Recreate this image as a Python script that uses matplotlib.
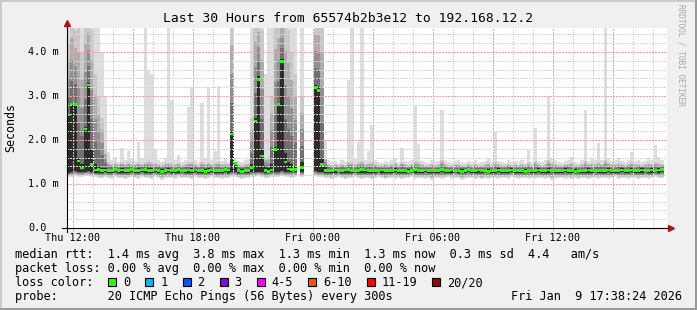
import numpy as np
import matplotlib
matplotlib.use('Agg')
import matplotlib.pyplot as plt
from matplotlib.patches import Rectangle
from matplotlib.transforms import blended_transform_factory

plt.rcParams['font.family'] = ['DejaVu Sans Mono', 'DejaVu Sans']

nan = np.nan

# time in hours since Thu 00:00, one column per 10 minutes
t_start = 11.7
step = 1.0 / 6

# median rtt per column (ms)
median = [
    2.57, 2.82, 2.80, 1.52, 1.36, 2.25, 3.25, 1.45, 1.32, 1.33,
    1.30, 1.32, 1.30, 1.31, 1.33, 1.30, 1.32, 1.31, 1.30, 1.33,
    1.31, 1.30, 1.32, 1.33, 1.31, 1.30, 1.32, 1.31, 1.29, 1.31,
    1.32, 1.30, 1.31, 1.33, 1.31, 1.30, 1.32, 1.31, 1.32, 1.30,
    1.31, 1.29, 1.31, 1.32, 1.31, 1.30, 1.31, 1.33, 1.32, 2.14,
    1.46, 1.30, 1.29, 1.30, 1.31, 1.37, 2.43, 3.38, 1.64, 1.30,
    1.29, 1.32, 1.78, 2.80, 3.78, 1.50, 1.34, 1.33, 1.33, nan,
    1.37, nan, nan, nan, 3.19, 3.13, 1.45, 1.31, 1.30, 1.31,
    1.32, 1.30, 1.31, 1.32, 1.33, 1.31, 1.30, 1.31, 1.33, 1.32,
    1.31, 1.30, 1.31, 1.30, 1.32, 1.31, 1.30, 1.31, 1.32, 1.30,
    1.31, 1.30, 1.29, 1.31, 1.33, 1.31, 1.30, 1.32, 1.31, 1.30,
    1.30, 1.31, 1.33, 1.31, 1.30, 1.32, 1.31, 1.30, 1.29, 1.31,
    1.33, 1.31, 1.30, 1.32, 1.30, 1.31, 1.29, 1.31, 1.30, 1.32,
    1.31, 1.30, 1.31, 1.32, 1.30, 1.31, 1.30, 1.29, 1.30, 1.31,
    1.30, 1.32, 1.31, 1.30, 1.32, 1.31, 1.30, 1.31, 1.30, 1.32,
    1.31, 1.30, 1.29, 1.31, 1.30, 1.31, 1.32, 1.30, 1.31, 1.30,
    1.31, 1.30, 1.32, 1.31, 1.30, 1.31, 1.32, 1.30, 1.31, 1.32,
    1.30, 1.31, 1.32, 1.31, 1.30, 1.32, 1.31, 1.32, 1.33,
]

# fastest ping
ping_min = [
    1.15, 1.17, 1.18, 1.16, 1.17, 1.18, 1.19, 1.16, 1.15, 1.14,
    1.14, 1.15, 1.13, 1.12, 1.15, 1.14, 1.13, 1.12, 1.14, 1.15,
    1.13, 1.12, 1.15, 1.14, 1.13, 1.12, 1.15, 1.14, 1.10, 1.13,
    1.14, 1.13, 1.12, 1.15, 1.14, 1.13, 1.14, 1.12, 1.15, 1.13,
    1.14, 1.12, 1.13, 1.15, 1.14, 1.13, 1.12, 1.14, 1.13, 1.16,
    1.15, 1.13, 1.12, 1.14, 1.13, 1.16, 1.17, 1.18, 1.16, 1.14,
    1.13, 1.15, 1.16, 1.17, 1.18, 1.16, 1.15, 1.14, 1.15, nan,
    1.17, nan, nan, nan, 1.18, 1.17, 1.16, 1.14, 1.13, 1.12,
    1.14, 1.15, 1.13, 1.12, 1.14, 1.13, 1.15, 1.14, 1.12, 1.13,
    1.14, 1.12, 1.13, 1.15, 1.14, 1.11, 1.13, 1.14, 1.12, 1.13,
    1.12, 1.14, 1.13, 1.15, 1.12, 1.13, 1.14, 1.12, 1.13, 1.10,
    1.13, 1.14, 1.12, 1.13, 1.15, 1.12, 1.14, 1.13, 1.10, 1.12,
    1.14, 1.13, 1.12, 1.14, 1.11, 1.13, 1.12, 1.14, 1.13, 1.12,
    1.13, 1.14, 1.12, 1.15, 1.13, 1.12, 1.14, 1.13, 1.12, 1.14,
    1.12, 1.13, 1.14, 1.12, 1.13, 1.10, 1.12, 1.14, 1.13, 1.12,
    1.14, 1.12, 1.13, 1.11, 1.14, 1.13, 1.12, 1.14, 1.13, 1.12,
    1.13, 1.14, 1.12, 1.13, 1.15, 1.12, 1.13, 1.14, 1.12, 1.13,
    1.14, 1.12, 1.13, 1.14, 1.12, 1.13, 1.15, 1.13, 1.14,
]

# lower edge of the dense core
core_lo = [
    1.26, 1.28, 1.30, 1.27, 1.27, 1.28, 1.30, 1.27, 1.26, 1.26,
    1.26, 1.27, 1.26, 1.26, 1.27, 1.26, 1.26, 1.25, 1.26, 1.27,
    1.26, 1.25, 1.27, 1.26, 1.26, 1.25, 1.27, 1.26, 1.25, 1.26,
    1.27, 1.26, 1.25, 1.26, 1.27, 1.26, 1.26, 1.25, 1.27, 1.26,
    1.26, 1.25, 1.26, 1.27, 1.26, 1.25, 1.26, 1.27, 1.26, 1.27,
    1.27, 1.26, 1.25, 1.26, 1.26, 1.27, 1.28, 1.28, 1.27, 1.26,
    1.25, 1.27, 1.27, 1.28, 1.29, 1.27, 1.27, 1.27, 1.27, nan,
    1.28, nan, nan, nan, 1.29, 1.28, 1.27, 1.26, 1.26, 1.25,
    1.26, 1.27, 1.26, 1.25, 1.26, 1.26, 1.27, 1.26, 1.25, 1.26,
    1.26, 1.25, 1.26, 1.27, 1.26, 1.25, 1.26, 1.26, 1.27, 1.26,
    1.25, 1.26, 1.26, 1.27, 1.26, 1.25, 1.26, 1.27, 1.26, 1.25,
    1.26, 1.26, 1.27, 1.25, 1.26, 1.26, 1.27, 1.26, 1.25, 1.26,
    1.27, 1.26, 1.25, 1.26, 1.26, 1.27, 1.25, 1.26, 1.26, 1.27,
    1.26, 1.25, 1.26, 1.27, 1.26, 1.26, 1.25, 1.26, 1.27, 1.26,
    1.26, 1.27, 1.25, 1.26, 1.26, 1.27, 1.26, 1.25, 1.26, 1.27,
    1.26, 1.25, 1.26, 1.27, 1.26, 1.26, 1.25, 1.26, 1.27, 1.26,
    1.25, 1.26, 1.27, 1.26, 1.26, 1.25, 1.27, 1.26, 1.26, 1.27,
    1.26, 1.25, 1.26, 1.27, 1.26, 1.26, 1.27, 1.26, 1.27,
]

# upper edge of the dense core
core_hi = [
    2.60, 2.85, 2.85, 1.60, 1.45, 2.30, 3.30, 1.80, 1.45, 1.40,
    1.37, 1.37, 1.35, 1.35, 1.36, 1.34, 1.36, 1.35, 1.35, 1.36,
    1.35, 1.36, 1.35, 1.36, 1.36, 1.36, 1.35, 1.35, 1.34, 1.35,
    1.36, 1.35, 1.35, 1.36, 1.34, 1.35, 1.35, 1.36, 1.35, 1.34,
    1.35, 1.34, 1.36, 1.35, 1.35, 1.35, 1.34, 1.36, 1.35, 2.20,
    1.50, 1.35, 1.34, 1.35, 1.35, 1.45, 2.50, 3.45, 1.80, 1.38,
    1.36, 1.45, 1.85, 2.85, 3.85, 1.70, 1.50, 1.45, 1.42, nan,
    1.50, nan, nan, nan, 3.25, 3.20, 1.60, 1.38, 1.35, 1.35,
    1.35, 1.34, 1.35, 1.35, 1.36, 1.35, 1.34, 1.35, 1.36, 1.35,
    1.35, 1.34, 1.35, 1.34, 1.35, 1.35, 1.34, 1.35, 1.36, 1.34,
    1.35, 1.34, 1.34, 1.35, 1.36, 1.35, 1.34, 1.35, 1.35, 1.34,
    1.34, 1.35, 1.36, 1.35, 1.34, 1.35, 1.35, 1.34, 1.34, 1.35,
    1.36, 1.35, 1.34, 1.35, 1.34, 1.35, 1.34, 1.35, 1.34, 1.36,
    1.35, 1.34, 1.35, 1.36, 1.34, 1.35, 1.34, 1.34, 1.34, 1.35,
    1.34, 1.36, 1.35, 1.34, 1.36, 1.35, 1.34, 1.35, 1.34, 1.36,
    1.35, 1.34, 1.34, 1.35, 1.34, 1.35, 1.36, 1.34, 1.35, 1.34,
    1.35, 1.34, 1.36, 1.35, 1.34, 1.35, 1.36, 1.34, 1.35, 1.36,
    1.34, 1.35, 1.36, 1.35, 1.34, 1.36, 1.35, 1.36, 1.37,
]

# second slowest ping
upper = [
    4.20, 4.80, 4.50, 4.80, 4.00, 4.80, 4.80, 4.50, 3.50, 3.00,
    2.50, 1.80, 1.50, 1.46, 1.48, 1.45, 1.50, 1.46, 1.50, 1.47,
    1.45, 1.50, 1.46, 1.50, 1.52, 1.50, 1.48, 1.46, 1.44, 1.47,
    1.48, 1.47, 1.45, 1.48, 1.44, 1.46, 1.50, 1.50, 1.46, 1.44,
    1.50, 1.46, 1.50, 1.46, 1.48, 1.50, 1.45, 1.47, 1.45, 4.80,
    1.50, 1.46, 1.44, 1.46, 1.47, 2.50, 4.80, 4.80, 4.50, 1.60,
    1.60, 3.00, 4.80, 4.80, 4.80, 4.80, 4.50, 4.00, 3.50, nan,
    3.00, nan, nan, nan, 4.80, 4.80, 4.80, 1.60, 1.46, 1.44,
    1.45, 1.43, 1.46, 1.44, 1.50, 1.50, 1.46, 1.50, 1.52, 1.45,
    1.48, 1.50, 1.46, 1.44, 1.43, 1.45, 1.44, 1.46, 1.48, 1.44,
    1.50, 1.45, 1.44, 1.46, 1.52, 1.50, 1.45, 1.44, 1.43, 1.46,
    1.44, 1.45, 1.55, 1.46, 1.44, 1.43, 1.45, 1.46, 1.44, 1.43,
    1.45, 1.44, 1.46, 1.43, 1.44, 1.45, 1.48, 1.44, 1.50, 1.45,
    1.44, 1.43, 1.46, 1.44, 1.45, 1.44, 1.46, 1.43, 1.50, 1.44,
    1.52, 1.45, 1.44, 1.46, 1.55, 1.48, 1.46, 1.44, 1.43, 1.45,
    1.46, 1.48, 1.44, 1.43, 1.46, 1.52, 1.45, 1.48, 1.46, 1.50,
    1.46, 1.55, 1.48, 1.45, 1.46, 1.47, 1.45, 1.44, 1.46, 1.50,
    1.45, 1.46, 1.44, 1.45, 1.48, 1.46, 1.50, 1.48, 1.46,
]

# slowest ping
ping_max = [
    4.80, 4.80, 4.80, 4.80, 4.80, 4.80, 4.80, 4.80, 4.80, 4.80,
    4.00, 3.00, 1.72, 1.55, 1.62, 1.50, 1.81, 1.55, 1.75, 1.60,
    1.52, 1.95, 1.58, 4.80, 3.60, 3.50, 1.80, 1.55, 1.50, 1.60,
    4.80, 2.90, 1.55, 1.66, 1.50, 1.55, 2.76, 3.20, 1.55, 1.50,
    2.84, 1.60, 3.20, 1.55, 1.75, 3.23, 1.52, 1.60, 1.50, 4.80,
    1.60, 1.52, 1.50, 1.55, 1.60, 4.80, 4.80, 4.80, 4.80, 3.50,
    4.80, 4.80, 4.80, 4.80, 4.80, 4.80, 4.80, 4.80, 4.80, nan,
    4.80, nan, nan, nan, 4.80, 4.80, 4.80, 2.00, 1.55, 1.50,
    1.52, 1.48, 1.55, 1.50, 3.36, 4.80, 1.60, 1.96, 4.80, 1.55,
    1.75, 2.34, 1.55, 1.50, 1.48, 1.52, 1.50, 1.55, 1.60, 1.50,
    1.82, 1.52, 1.50, 1.55, 2.77, 1.90, 1.52, 1.50, 1.48, 1.55,
    1.50, 1.52, 2.68, 1.55, 1.50, 1.48, 1.52, 1.55, 1.50, 1.48,
    1.52, 1.50, 1.55, 1.48, 1.50, 1.52, 1.60, 1.50, 2.19, 1.52,
    1.50, 1.48, 1.55, 1.50, 1.52, 1.50, 1.55, 1.48, 1.77, 1.50,
    2.27, 1.52, 1.50, 1.55, 3.00, 1.60, 1.55, 1.50, 1.48, 1.52,
    1.55, 1.62, 1.50, 1.48, 1.55, 2.68, 1.52, 1.60, 1.55, 1.93,
    1.55, 4.80, 1.60, 1.52, 1.55, 1.58, 1.52, 1.50, 1.55, 1.73,
    1.52, 1.55, 1.50, 1.52, 1.60, 1.55, 1.89, 1.62, 1.55,
]

tick_hours = [12, 18, 24, 30, 36]
tick_labels = ['Thu 12:00', 'Thu 18:00', 'Fri 00:00', 'Fri 06:00', 'Fri 12:00']
y_ticks = [0, 1, 2, 3, 4]
y_labels = ['0.0', '1.0 m', '2.0 m', '3.0 m', '4.0 m']

title = 'Last 30 Hours from 65574b2b3e12 to 192.168.12.2'
legend_rtt = 'median rtt:  1.4 ms avg  3.8 ms max  1.3 ms min  1.3 ms now  0.3 ms sd  4.4   am/s'
legend_loss = 'packet loss: 0.00 % avg  0.00 % max  0.00 % min  0.00 % now'
loss_labels = ['0', '1', '2', '3', '4-5', '6-10', '11-19', '20/20']
loss_colors = ['#26ff00', '#00b8ff', '#0059ff', '#7e00ff', '#ff00ee', '#ff5500', '#ff0000', '#a10000']
probe_text = 'probe:       20 ICMP Echo Pings (56 Bytes) every 300s'
stamp = 'Fri Jan  9 17:38:24 2026'

W, H = 697, 310
def fx(x):
    return x / W
def fy(y):
    return 1 - y / H

fig = plt.figure(figsize=(W / 100, H / 100), dpi=100, facecolor='#f0f0f0')
ax = fig.add_axes([fx(67), fy(228), 600 / W, 200 / H])
ax.set_facecolor('white')
ax.set_xlim(t_start, t_start + 30)
ax.set_ylim(0, 200 / 44)
for s in ax.spines.values():
    s.set_visible(False)

n = len(median)
t = t_start + step * np.arange(n)
xs = np.column_stack([t, t + step]).ravel()
def dbl(a):
    return np.repeat(np.asarray(a, float), 2)

lo0, c_lo = np.asarray(ping_min), np.asarray(core_lo)
hi0, up, c_hi = np.asarray(ping_max), np.asarray(upper), np.asarray(core_hi)

# smoke: outer band is the full ping range, inner bands close in on the core
ax.fill_between(xs, dbl(lo0), dbl(hi0), color='#dddddd', lw=0, zorder=1)
shades = ['#c8c8c8', '#adadad', '#909090', '#707070', '#2c2c2c']
for j, c in enumerate(shades, start=1):
    f_top = (j - 1) / 4
    f_bot = j / 5
    top = up + (c_hi - up) * f_top
    bot = lo0 + (c_lo - lo0) * f_bot
    ax.fill_between(xs, dbl(bot), dbl(top), color=c, lw=0, zorder=1 + j * 0.01)

# grid
for h in range(12, 42):
    major = h % 3 == 0
    ax.axvline(h, color='#f0a4a4' if major else '#d6d6d6', lw=0.75,
               ls=(0, (1, 1)), antialiased=False, zorder=2)
for i in range(1, 23):
    v = i * 0.2
    major = i % 5 == 0
    ax.axhline(v, color='#f0a4a4' if major else '#d6d6d6', lw=0.75,
               ls=(0, (1, 1)), antialiased=False, zorder=2)

# median rtt, drawn as short green dashes
med = np.asarray(median, float)
ax.fill_between(xs, dbl(med - 0.03), dbl(med + 0.03), color='#26ff00', lw=0, zorder=3)

# axes with arrows
ax.plot([t_start - 0.25, t_start + 30.05], [0, 0], color='black', lw=0.8,
        clip_on=False, zorder=5)
ax.plot([t_start, t_start], [-0.09, 4.62], color='black', lw=0.8,
        clip_on=False, zorder=5)
ax.plot(t_start + 30.2, 0, marker='>', ms=4.5, color='#a01818', mec='#a01818',
        clip_on=False, zorder=6)
ax.plot(t_start, 4.65, marker='^', ms=4.5, color='#a01818', mec='#a01818',
        clip_on=False, zorder=6)

major_x = list(range(12, 42, 3))
ax.set_xticks(major_x)
ax.set_xticklabels([tick_labels[tick_hours.index(h)] if h in tick_hours else ''
                    for h in major_x])
ax.set_xticks(range(12, 42), minor=True)
ax.tick_params(axis='x', which='major', length=2.5, width=0.75, color='#f0a4a4',
               pad=1.0, labelsize=7.3)
ax.tick_params(axis='x', which='minor', length=1.5, width=0.75, color='#d6d6d6')
ax.set_yticks([])

ytr = blended_transform_factory(fig.transFigure, ax.transData)
for v, lab in zip(y_ticks, y_labels):
    ax.text(fx(28), v, lab, transform=ytr, ha='left', va='center', fontsize=7.3)

# texts
fig.text(0.5, fy(19), title, ha='center', va='center', fontsize=9.36)
fig.text(fx(11), fy(128), 'Seconds', rotation=90, ha='center', va='center', fontsize=8.4)
fig.text(fx(681), fy(4), 'RRDTOOL / TOBI OETIKER', rotation=270, ha='center', va='top',
         fontsize=5.6, color='#a8a8a8')

fs = 8.53
cw = 7.13
fig.text(fx(15), fy(258), legend_rtt, fontsize=fs, va='baseline')
fig.text(fx(15), fy(272.3), legend_loss, fontsize=fs, va='baseline')
fig.text(fx(15), fy(286.3), 'loss color:', fontsize=fs, va='baseline')
fig.text(fx(15), fy(300), probe_text, fontsize=fs, va='baseline')
fig.text(fx(682), fy(300), stamp, fontsize=fs, va='baseline', ha='right')

bx = 108.3
for lab, c in zip(loss_labels, loss_colors):
    fig.add_artist(Rectangle((fx(bx), fy(286)), 8 / W, 8 / H, transform=fig.transFigure,
                             facecolor=c, edgecolor='black', lw=0.8))
    fig.text(fx(bx + 15), fy(286.3), lab, fontsize=fs, va='baseline')
    bx += 15 + len(lab) * cw + 15

# 3d frame
fig.add_artist(Rectangle((0, fy(2)), 1, 2 / H, transform=fig.transFigure,
                         facecolor='#cbcbcb', lw=0))
fig.add_artist(Rectangle((0, 0), 2 / W, 1, transform=fig.transFigure,
                         facecolor='#cbcbcb', lw=0))
fig.add_artist(Rectangle((0, 0), 1, 2 / H, transform=fig.transFigure,
                         facecolor='#999999', lw=0))
fig.add_artist(Rectangle((fx(695), 0), 2 / W, 1, transform=fig.transFigure,
                         facecolor='#999999', lw=0))

fig.savefig('out.png', dpi=100, facecolor=fig.get_facecolor())
